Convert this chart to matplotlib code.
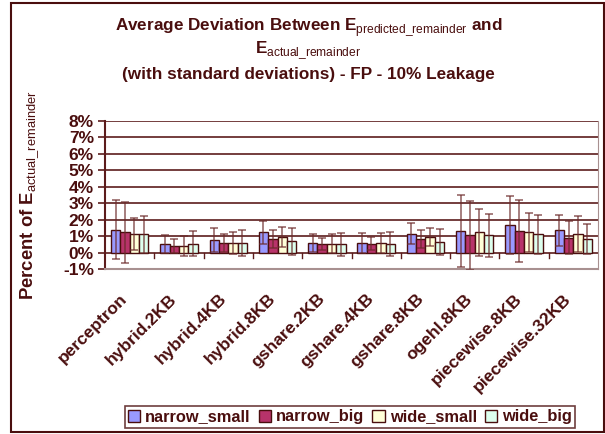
import numpy as np
import matplotlib.pyplot as plt
import matplotlib.transforms as mtransforms
from matplotlib.patches import Rectangle, Patch

plt.rcParams['font.family'] = ['Liberation Sans', 'DejaVu Sans']
plt.rcParams['mathtext.fontset'] = 'custom'
plt.rcParams['mathtext.rm'] = 'Liberation Sans'
plt.rcParams['mathtext.bf'] = 'Liberation Sans:bold'

categories = ['perceptron', 'hybrid.2KB', 'hybrid.4KB', 'hybrid.8KB', 'gshare.2KB',
              'gshare.4KB', 'gshare.8KB', 'ogehl.8KB', 'piecewise.8KB', 'piecewise.32KB']
series = ['narrow_small', 'narrow_big', 'wide_small', 'wide_big']

narrow_small = [1.40, 0.50, 0.77, 1.22, 0.60, 0.58, 1.15, 1.33, 1.67, 1.35]
narrow_big = [1.22, 0.40, 0.60, 0.85, 0.52, 0.55, 0.80, 1.06, 1.30, 0.90]
wide_small = [1.13, 0.42, 0.60, 0.93, 0.55, 0.60, 0.95, 1.22, 1.23, 1.13]
wide_big = [1.10, 0.55, 0.58, 0.68, 0.50, 0.52, 0.63, 1.05, 1.10, 0.83]

std_narrow_small = [1.80, 0.55, 0.75, 0.70, 0.55, 0.62, 0.65, 2.20, 1.75, 0.93]
std_narrow_big = [1.87, 0.45, 0.55, 0.55, 0.35, 0.40, 0.55, 2.10, 1.90, 1.00]
std_wide_small = [1.00, 0.60, 0.67, 0.60, 0.57, 0.60, 0.55, 1.40, 1.20, 1.07]
std_wide_big = [1.15, 0.75, 0.80, 0.80, 0.70, 0.72, 0.80, 1.30, 1.20, 0.90]

values = [narrow_small, narrow_big, wide_small, wide_big]
stds = [std_narrow_small, std_narrow_big, std_wide_small, std_wide_big]
colors = ['#9999FF', '#B8336A', '#FFFFD8', '#DDFFEE']

dark = '#4A0E0E'
grid = '#5C1C1C'

fig = plt.figure(figsize=(6.05, 4.34), dpi=100)
fig.patches.append(Rectangle((11 / 605, 2 / 434), 593 / 605, 429 / 434, transform=fig.transFigure,
                             fill=False, edgecolor=dark, linewidth=1.5))

ax = fig.add_axes([105 / 605, (434 - 269) / 434, 493 / 605, (269 - 121) / 434])
n = len(categories)
x = np.arange(n)
w = 0.19
for i, (vals, sd, c) in enumerate(zip(values, stds, colors)):
    pos = x + (i - 1.5) * w
    ax.bar(pos, vals, width=w, color=c, edgecolor=dark, linewidth=1.0, zorder=3)
    ax.errorbar(pos, vals, yerr=sd, fmt='none', ecolor='#6B2A2A', alpha=0.7,
                elinewidth=1.2, capsize=3, capthick=1.2, zorder=4)

ax.set_xlim(-0.5, n - 0.5)
ax.set_ylim(-1, 8)
yt = np.arange(-1, 9)
ax.set_yticks(yt)
ax.set_yticklabels([f'{v}%' for v in yt], fontsize=12.5, fontweight='bold', color=dark)
for v in range(0, 9):
    ax.axhline(v, color=grid, linewidth=1.2, zorder=1)
ax.tick_params(axis='y', length=5, width=1.2, color=grid, pad=3)

ax.set_xticks([])
for b in np.arange(0.5, n - 0.5):
    ax.plot([b, b], [0, -0.35], color=grid, linewidth=1.0, zorder=2)

ax.spines['top'].set_visible(False)
ax.spines['left'].set_color(grid)
ax.spines['left'].set_linewidth(1.5)
ax.spines['right'].set_color('#A89090')
ax.spines['bottom'].set_color('#A89090')
ax.spines['bottom'].set_linewidth(1.5)

trans = mtransforms.blended_transform_factory(ax.transData, ax.transAxes)
for xi, lab in zip(x, categories):
    ax.text(xi - 0.2, -0.15, lab, transform=trans, rotation=45, ha='right', va='top',
            rotation_mode='anchor', fontsize=12.5, fontweight='bold', color=dark)

tkw = dict(ha='center', va='center', fontsize=12.3, fontweight='bold', color=dark)
fig.text(0.51, 1 - 28 / 434, r'Average Deviation Between E$_{\mathrm{predicted\_remainder}}$ and', **tkw)
fig.text(0.51, 1 - 51 / 434, r'E$_{\mathrm{actual\_remainder}}$', **tkw)
fig.text(0.51, 1 - 74 / 434, '(with standard deviations) - FP - 10% Leakage', **tkw)

fig.text(30 / 605, 1 - 195 / 434, r'Percent of E$_{\mathrm{actual\_remainder}}$', rotation=90,
         ha='center', va='center', fontsize=13.3, fontweight='bold', color=dark)

handles = [Patch(facecolor=c, edgecolor=dark, label=s) for c, s in zip(colors, series)]
leg = fig.legend(handles=handles, loc='center', bbox_to_anchor=(350 / 605, 1 - 417 / 434), ncol=4,
                 frameon=True, fancybox=False, handlelength=0.75, handleheight=0.75,
                 handletextpad=0.3, columnspacing=0.5, borderpad=0.2,
                 prop={'weight': 'bold', 'size': 11.8})
leg.get_frame().set_edgecolor(dark)
leg.get_frame().set_linewidth(1.2)
for t in leg.get_texts():
    t.set_color(dark)

fig.savefig('out.png', dpi=100)
